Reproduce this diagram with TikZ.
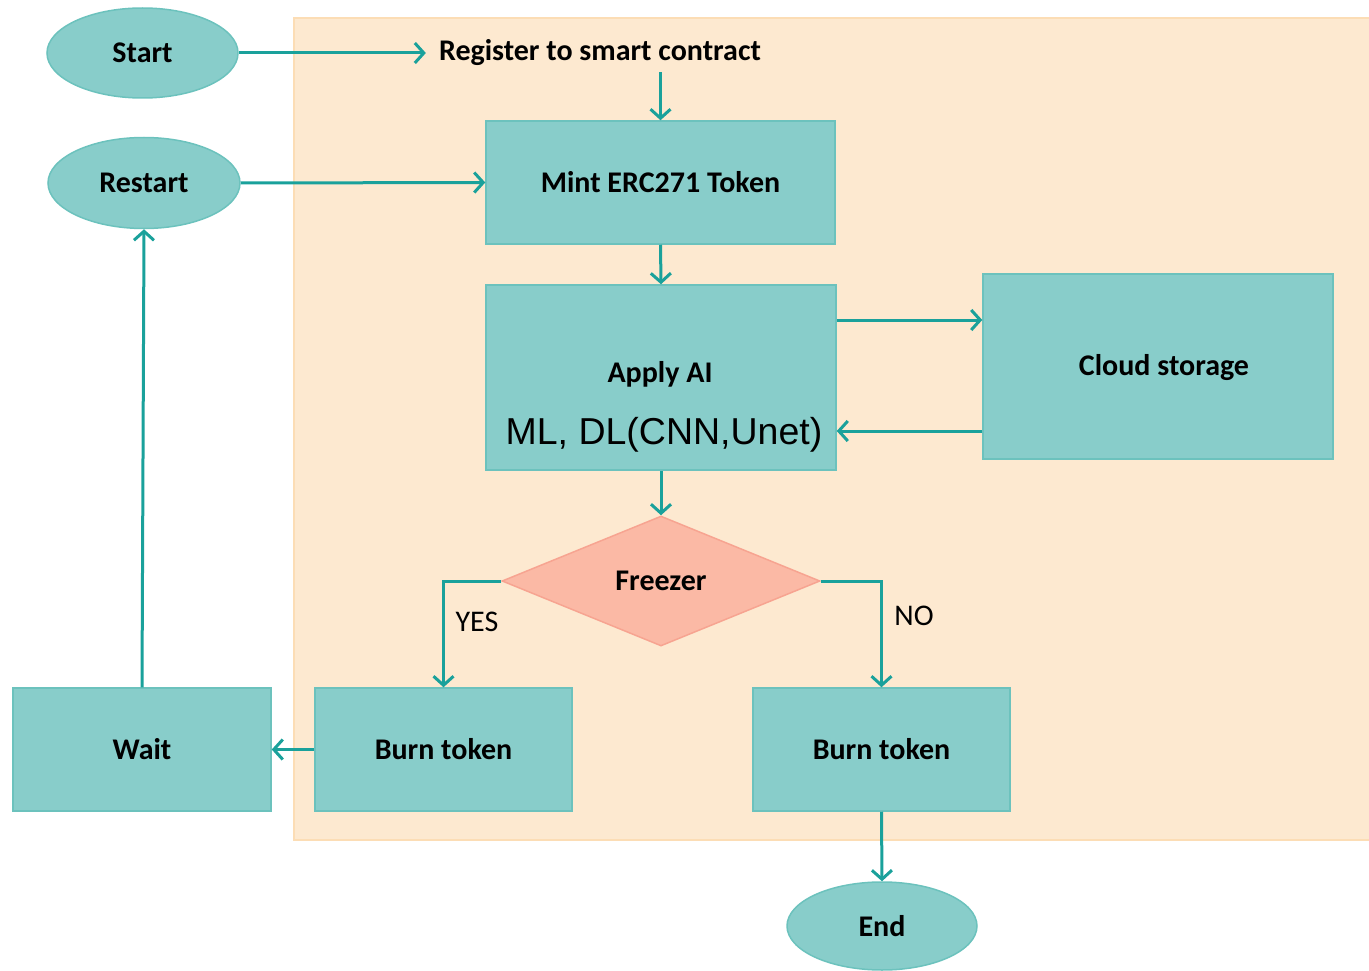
\documentclass[tikz,border=0pt]{standalone}
\usepackage{fontspec}
\setmainfont{Carlito}
\newfontfamily\arialf{Liberation Sans}
\usetikzlibrary{shapes.geometric,arrows.meta}
\definecolor{tealfill}{HTML}{88CDCA}
\definecolor{tealborder}{HTML}{6CC2BD}
\definecolor{arrowc}{HTML}{1AA19B}
\definecolor{peach}{HTML}{FDE9D0}
\definecolor{peachb}{HTML}{FCDDB5}
\definecolor{salmon}{HTML}{FBB9A5}
\definecolor{salmonb}{HTML}{F7A491}
\tikzset{
  oval/.style={ellipse, fill=tealfill, draw=tealborder, line width=1.5pt, inner sep=0pt, font=\fontsize{30}{35}\selectfont\bfseries},
  box/.style={rectangle, fill=tealfill, draw=tealborder, line width=1.5pt, inner sep=0pt, font=\fontsize{30}{35}\selectfont\bfseries},
  dec/.style={diamond, fill=salmon, draw=salmonb, line width=1.5pt, inner sep=0pt, aspect=2.5, font=\fontsize{30}{35}\selectfont\bfseries},
  lbl/.style={inner sep=0pt, font=\fontsize{30}{35}\selectfont},
  arr/.style={draw=arrowc, line width=3pt, -{Straight Barb[length=9pt,width=20pt,line width=3pt]}},
  ln/.style={draw=arrowc, line width=3pt}
}
\begin{document}
\begin{tikzpicture}[x=1pt,y=-1pt]
\useasboundingbox (0,0) rectangle (1369,971);
% background region
\fill[peach] (294,18) rectangle (1369,840);
\draw[peachb, line width=1.5pt] (1369,18) -- (294,18) -- (294,840) -- (1369,840);

\node[oval, minimum width=191, minimum height=90] (start) at (142.5,53) {Start};
\node[oval, minimum width=192, minimum height=91] (restart) at (144,183) {Restart};
\node[lbl, font=\fontsize{30}{35}\selectfont\bfseries, inner xsep=13pt, inner ysep=6pt] (reg) at (600,53) {Register to smart contract};
\node[box, minimum width=349, minimum height=123] (mint) at (660.5,182.5) {Mint ERC271 Token};
\node[box, minimum width=350, minimum height=185] (apply) at (661,377.5) {};
\node[lbl, font=\fontsize{30}{35}\selectfont\bfseries] (applyt) at (660,374) {Apply AI};
\node[lbl, font=\fontsize{37.5}{42}\selectfont\arialf] (mlt) at (664,435) {ML, DL(CNN,Unet)};
\node[box, minimum width=350, minimum height=185] (cloud) at (1158,366.5) {};
\node[lbl, font=\fontsize{30}{35}\selectfont\bfseries] (cloudt) at (1164,368) {Cloud storage};
\node[dec, minimum width=318, minimum height=130] (freezer) at (661,581) {Freezer};
\node[box, minimum width=257, minimum height=123] (burnL) at (443.5,749.5) {Burn token};
\node[box, minimum width=257, minimum height=123] (burnR) at (881.5,749.5) {Burn token};
\node[box, minimum width=258, minimum height=123] (wait) at (142,749.5) {Wait};
\node[oval, minimum width=190, minimum height=88] (end) at (882,926) {End};

\node[lbl] (yes) at (477,622) {YES};
\node[lbl] (no) at (914,616) {NO};

\draw[arr] (start.east) -- (reg.west);
\draw[arr] (reg.south -| mint.north) -- (mint.north);
\draw[arr] (restart.east) -- (mint.west);
\draw[arr] (mint.south) -- (apply.north);
\draw[arr] (apply.east |- 0,320) -- (cloud.west |- 0,320);
\draw[arr] (cloud.west |- 0,431) -- (apply.east |- 0,431);
\draw[arr] (apply.south) -- (freezer.north);
\draw[arr] (freezer.west) -| (burnL.north);
\draw[arr] (freezer.east) -| (burnR.north);
\draw[arr] (burnL.west) -- (wait.east);
\draw[arr] (wait.north) -- (restart.south);
\draw[arr] (burnR.south) -- (end.north);
\end{tikzpicture}
\end{document}
